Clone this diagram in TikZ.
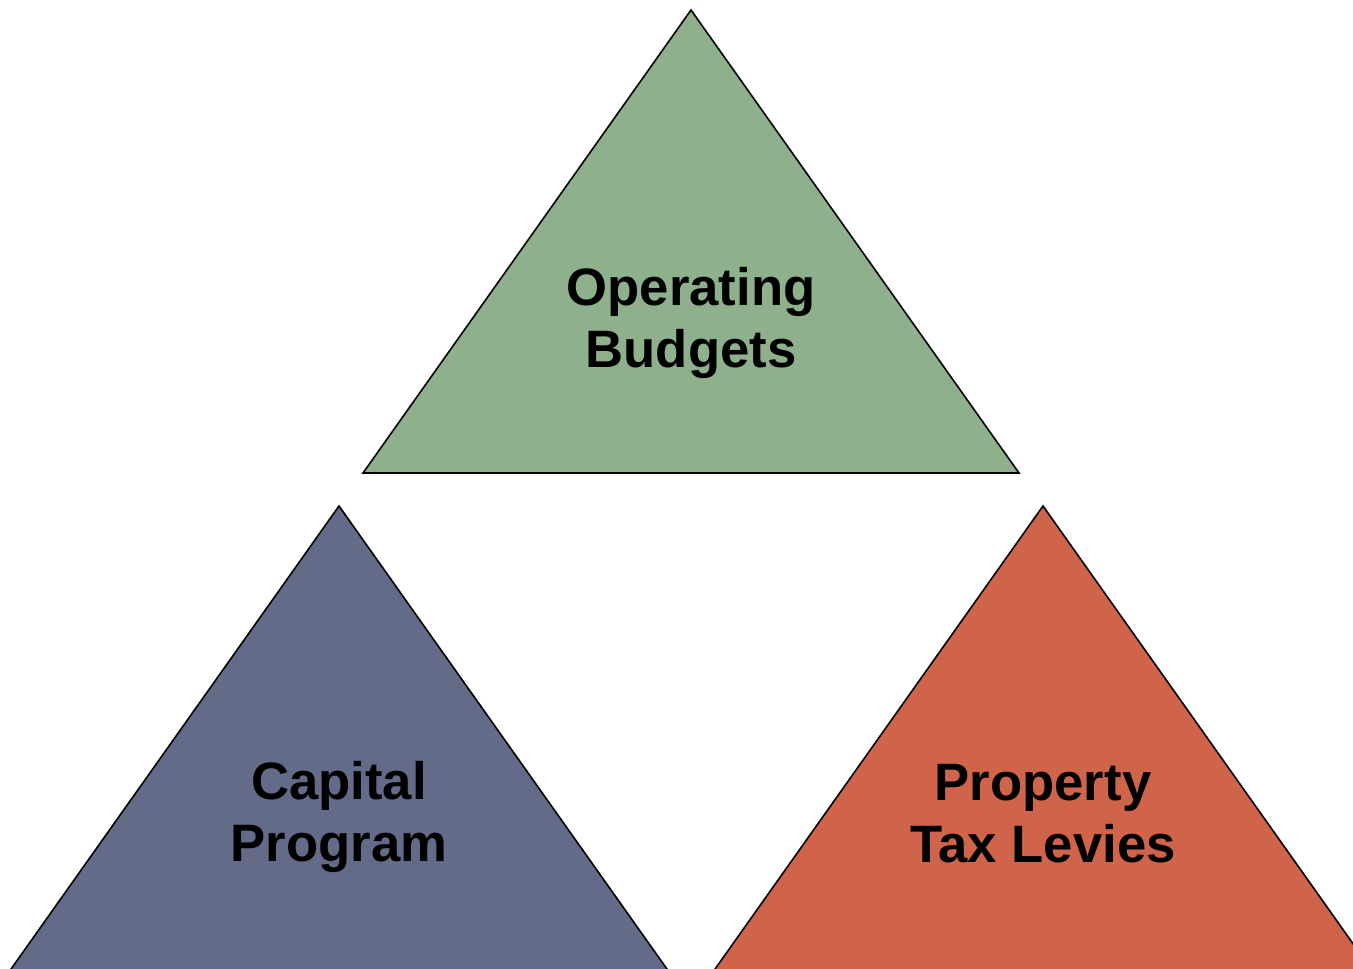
\documentclass[tikz,border=0pt]{standalone}
\usepackage{fontspec}
\setmainfont{Liberation Sans}
\definecolor{opgreen}{RGB}{143,176,140}
\definecolor{capblue}{RGB}{100,107,136}
\definecolor{taxred}{RGB}{208,100,74}
\tikzset{
  tri/.style={draw=black, line width=1.2pt, line join=miter},
  lbl/.style={inner sep=0pt, align=center, font=\fontsize{39.5pt}{46.5pt}\selectfont\bfseries}
}
\begin{document}
\begin{tikzpicture}[x=0.75pt,y=-0.75pt]
\useasboundingbox (0,0) rectangle (1353,968);
\clip (0,0) rectangle (1353,968);
\fill[white] (0,0) rectangle (1353,968);
% top triangle
\draw[tri, fill=opgreen] (691,10) -- (1019,473) -- (363,473) -- cycle;
% bottom left (base lies below the page edge)
\draw[tri, fill=capblue] (339,506) -- (671.2,975) -- (6.8,975) -- cycle;
% bottom right (clipped at the right and bottom)
\draw[tri, fill=taxred] (1043,506) -- (1375.2,975) -- (710.8,975) -- cycle;
\node[lbl] (op) at (691,323.4) {Operating\\Budgets};
\node[lbl] (cap) at (339,817.4) {Capital\\Program};
\node[lbl] (tax) at (1043,814) {Property\\Tax Levies};
\end{tikzpicture}
\end{document}
